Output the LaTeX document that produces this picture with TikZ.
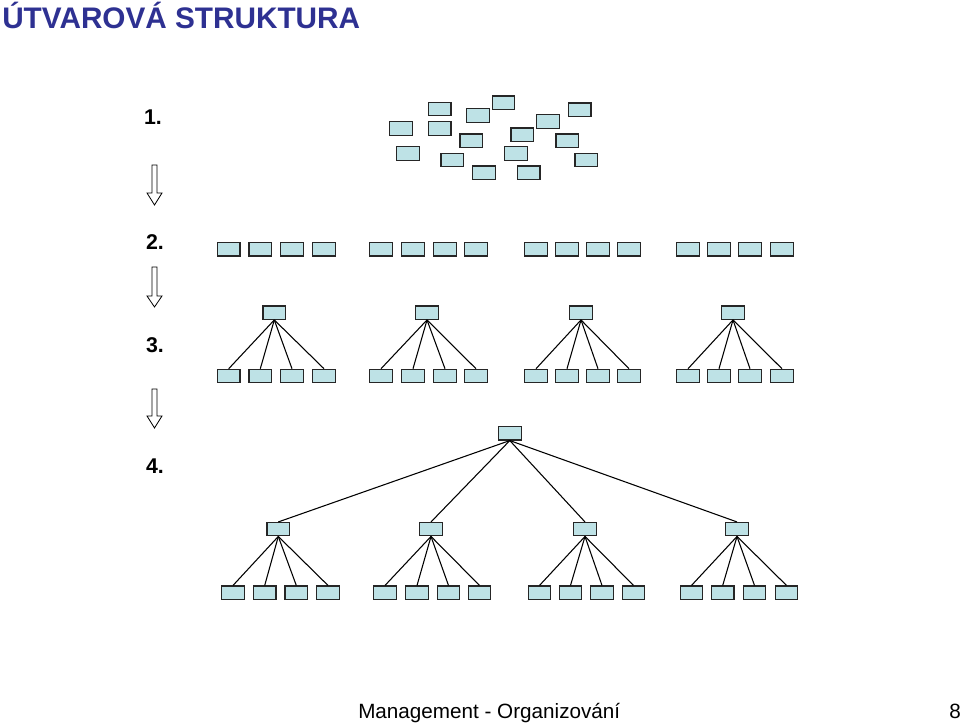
\documentclass[tikz,border=0pt]{standalone}
\usepackage{fontspec}
\setmainfont{Liberation Sans}
\definecolor{boxfill}{RGB}{190,226,230}
\definecolor{titleblue}{RGB}{46,49,146}
\begin{document}
\begin{tikzpicture}[x=0.75pt,y=-0.75pt,
  unit/.style={draw=black!85,fill=boxfill,line width=0.9pt,minimum width=17pt,minimum height=10pt,inner sep=0pt},
  link/.style={draw=black,line width=0.8pt},
  num/.style={font=\fontsize{16pt}{18pt}\selectfont\bfseries,anchor=center},
  hollow/.style={draw=black,fill=white,line width=0.6pt}]
\useasboundingbox (0,0) rectangle (960,723);
% title and footer
\node[anchor=base west,inner sep=0pt,text=titleblue,font=\fontsize{22.3pt}{25pt}\selectfont\bfseries] (title) at (2,29) {ÚTVAROVÁ STRUKTURA};
\node[anchor=base west,inner sep=0pt,font=\fontsize{15.5pt}{18pt}\selectfont] (foot) at (358,718) {Management - Organizování};
\node[anchor=base east,inner sep=0pt,font=\fontsize{15.5pt}{18pt}\selectfont] (page) at (961,718) {8};
% step numbers
\node[num] (n1) at (153,117) {1.};
\node[num] (n2) at (155,242) {2.};
\node[num] (n3) at (155,345) {3.};
\node[num] (n4) at (155,466) {4.};
% hollow arrows
\foreach \t/\h/\b in {165/193/205, 267/296/307, 389/416/428}{
  \draw[hollow] (152,\t) -- (157,\t) -- (157,\h) -- (162,\h) -- (154.5,\b) -- (147,\h) -- (152,\h) -- cycle;
}
% stage 1: scattered units
\foreach \x/\y [count=\i] in {439.7/109, 503.5/102.7, 478/115.5, 579.7/109.7, 401/128.5, 439.7/128.5, 548/121.5, 522.3/134.7, 471.3/140.7, 567.3/140.7, 408/153.5, 515.8/153.5, 452.3/160, 586.3/160, 484/172.7, 528.7/172.7}{
  \node[unit] (a\i) at (\x,\y) {};
}
% stage 2: grouped rows
\foreach \x [count=\i] in {228.7,260.3,292,324, 381,413,445,476, 536,567,598,629, 688,719,750,782}{
  \node[unit] (b\i) at (\x,249.3) {};
}
% stage 3: groups with heads
\foreach \x [count=\i] in {228.7,260.3,292,324, 381,413,445,476, 536,567,598,629, 688,719,750,782}{
  \node[unit] (c\i) at (\x,376) {};
}
\foreach \x [count=\g] in {274.3,427,581,733}{
  \node[unit] (ch\g) at (\x,312.7) {};
  \foreach \k in {1,...,4}{
    \pgfmathtruncatemacro{\idx}{(\g-1)*4+\k}
    \draw[link] (ch\g.south) -- (c\idx.north);
  }
}
% stage 4: full hierarchy
\node[unit] (root) at (509.8,433.3) {};
\foreach \x [count=\i] in {233,264.7,296.3,328, 385,417,448.5,479.5, 539.5,570.5,602,633.5, 691.5,722.7,754.5,786.5}{
  \node[unit] (d\i) at (\x,592.7) {};
}
\foreach \x [count=\g] in {278.3,431,585,737}{
  \node[unit] (dm\g) at (\x,529.2) {};
  \draw[link] (root.south) -- (dm\g.north);
  \foreach \k in {1,...,4}{
    \pgfmathtruncatemacro{\idx}{(\g-1)*4+\k}
    \draw[link] (dm\g.south) -- (d\idx.north);
  }
}
\end{tikzpicture}
\end{document}
